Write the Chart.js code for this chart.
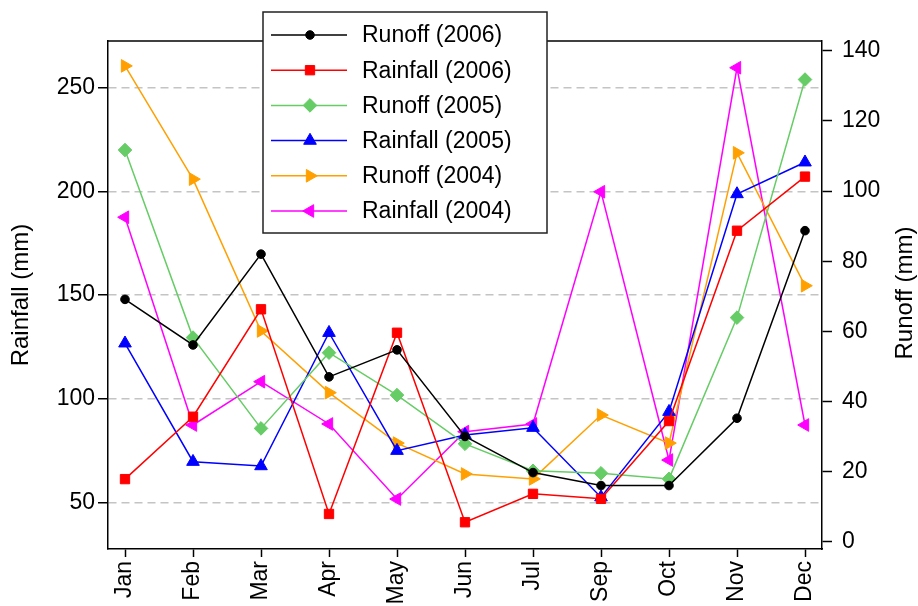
<!DOCTYPE html>
<html>
<head>
<meta charset="utf-8">
<script src="https://cdn.jsdelivr.net/npm/chart.js"></script>
<style>
  html, body { margin: 0; padding: 0; background: #fff; }
  canvas { display: block; }
</style>
</head>
<body>
<canvas id="chart" width="918" height="606"></canvas>
<script>
// months shown on the x axis (no Aug in the source)
const months = ['Jan', 'Feb', 'Mar', 'Apr', 'May', 'Jun', 'Jul', 'Sep', 'Oct', 'Nov', 'Dec'];

// runoff on right axis, rainfall on left axis (mm)
const runoff2006   = [69.1, 56.1, 82.0, 47.0, 54.7, 30.0, 19.7, 16.0, 16.0, 35.2, 88.7];
const rainfall2006 = [61.2, 91.3, 143.1, 44.4, 131.8, 40.4, 54.1, 51.7, 89.2, 181.0, 207.1];
const runoff2005   = [111.7, 58.2, 32.3, 53.9, 41.8, 27.9, 20.2, 19.5, 17.9, 63.9, 131.8];
const rainfall2005 = [126.7, 69.6, 67.5, 131.8, 74.9, 82.5, 86.0, 52.5, 93.7, 198.7, 214.0];
const runoff2004   = [135.7, 103.4, 60.1, 42.5, 28.1, 19.3, 17.9, 36.1, 28.1, 110.9, 73.0];
const rainfall2004 = [187.5, 87.3, 108.2, 87.8, 51.6, 84.1, 87.8, 199.8, 70.4, 259.6, 87.3];

const rainfallTicks = [50, 100, 150, 200, 250];
const runoffTicks = [0, 20, 40, 60, 80, 100, 120, 140];

const FONT = "'Liberation Sans', Arial, sans-serif";
Chart.defaults.font.family = FONT;
Chart.defaults.font.size = 23;
Chart.defaults.color = '#000';

function series(label, values, color, style, rot, radius, axis) {
    return {
        label: label,
        data: values.map((v, i) => ({ x: i, y: v })),
        yAxisID: axis,
        borderColor: color,
        backgroundColor: color,
        borderWidth: 1.5,
        pointStyle: style,
        pointRotation: rot,
        pointRadius: radius,
        pointBorderWidth: 1,
        tension: 0
    };
}

const datasets = [
    series('Runoff (2006)', runoff2006, '#000000', 'circle', 0, 4.3, 'yR'),
    series('Rainfall (2006)', rainfall2006, '#ff0000', 'rect', 0, 6.6, 'yL'),
    series('Runoff (2005)', runoff2005, '#66cc66', 'rectRot', 0, 6.8, 'yR'),
    series('Rainfall (2005)', rainfall2005, '#0000ff', 'triangle', 0, 7.3, 'yL'),
    series('Runoff (2004)', runoff2004, '#ffa000', 'triangle', 90, 7.3, 'yR'),
    series('Rainfall (2004)', rainfall2004, '#ff00ff', 'triangle', -90, 7.3, 'yL')
];

// legend box inside the plot, top frame line, right axis title
const boxLegend = {
    id: 'boxLegend',
    afterDraw(chart) {
        const ctx = chart.ctx;
        const a = chart.chartArea;
        ctx.save();
        ctx.strokeStyle = '#000';
        ctx.lineWidth = 1.5;
        ctx.beginPath();
        ctx.moveTo(a.left, a.top);
        ctx.lineTo(a.right, a.top);
        ctx.stroke();

        // right title reads bottom-to-top like the left one
        ctx.save();
        ctx.translate(905, (a.top + a.bottom) / 2 - 2);
        ctx.rotate(-Math.PI / 2);
        ctx.fillStyle = '#000';
        ctx.font = '24px ' + FONT;
        ctx.textAlign = 'center';
        ctx.textBaseline = 'middle';
        ctx.fillText('Runoff (mm)', 0, 0);
        ctx.restore();

        const bx = 263, by = 12, bw = 284, bh = 221;
        ctx.fillStyle = '#fff';
        ctx.fillRect(bx, by, bw, bh);
        ctx.strokeStyle = '#222';
        ctx.strokeRect(bx, by, bw, bh);

        chart.data.datasets.forEach((ds, i) => {
            const y = 35 + i * 35.2;
            ctx.strokeStyle = ds.borderColor;
            ctx.lineWidth = 1.5;
            ctx.beginPath();
            ctx.moveTo(271, y);
            ctx.lineTo(347, y);
            ctx.stroke();
            ctx.fillStyle = ds.backgroundColor;
            ctx.lineWidth = 1;
            Chart.helpers.drawPoint(ctx, {
                pointStyle: ds.pointStyle,
                rotation: ds.pointRotation,
                radius: ds.pointRadius,
                borderWidth: 1
            }, 310, y);
            ctx.fillStyle = '#000';
            ctx.font = '23px ' + FONT;
            ctx.textBaseline = 'middle';
            ctx.textAlign = 'left';
            ctx.fillText(ds.label, 362, y + 1);
        });
        ctx.restore();
    }
};

new Chart(document.getElementById('chart'), {
    type: 'line',
    data: { datasets: datasets },
    plugins: [boxLegend],
    options: {
        responsive: false,
        animation: false,
        devicePixelRatio: 1,
        layout: { padding: { top: 41, left: 0, right: 0, bottom: 0 } },
        plugins: { legend: { display: false }, tooltip: { enabled: false } },
        scales: {
            x: {
                type: 'linear',
                min: -0.25,
                max: 10.25,
                afterBuildTicks: s => { s.ticks = months.map((m, i) => ({ value: i })); },
                afterFit: s => { s.height = 57; },
                ticks: {
                    callback: v => months[v],
                    maxRotation: 90,
                    minRotation: 90,
                    padding: 4,
                    autoSkip: false
                },
                grid: { drawOnChartArea: false, tickLength: 8, tickColor: '#000', tickWidth: 1.5 },
                border: { color: '#000', width: 1.5 }
            },
            yL: {
                position: 'left',
                min: 27.5,
                max: 272.5,
                afterBuildTicks: s => { s.ticks = rainfallTicks.map(v => ({ value: v })); },
                afterFit: s => { s.width = 108; },
                ticks: { padding: 3 },
                title: { display: true, text: 'Rainfall (mm)', font: { size: 24 }, padding: { top: 7, bottom: 0 } },
                grid: {
                    color: '#c4c4c4',
                    lineWidth: 1.5,
                    tickBorderDash: [],
                    tickColor: '#000',
                    tickLength: 10,
                    tickWidth: 1.5
                },
                border: { color: '#000', width: 1.5, dash: [8, 5] }
            },
            yR: {
                position: 'right',
                min: -2.1,
                max: 142.8,
                afterBuildTicks: s => { s.ticks = runoffTicks.map(v => ({ value: v })); },
                afterFit: s => { s.width = 96; },
                ticks: { padding: 10 },
                grid: { drawOnChartArea: false, tickColor: '#000', tickLength: 10, tickWidth: 1.5 },
                border: { color: '#000', width: 1.5 }
            }
        }
    }
});
</script>
</body>
</html>
